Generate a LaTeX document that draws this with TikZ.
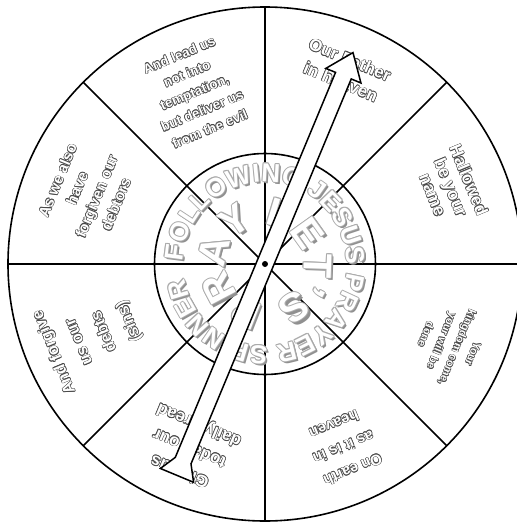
\documentclass[tikz,border=0pt]{standalone}
\usepackage{fontspec}
\setmainfont{Liberation Sans}
\usetikzlibrary{decorations.text}
\definecolor{olgray}{HTML}{4A4A4A}
\definecolor{ringshadow}{HTML}{909090}
\definecolor{ringline}{HTML}{ABABAB}
\newsavebox\olbox
\newcommand\olt[3]{%
  \sbox\olbox{\fontsize{#1}{#2}\selectfont\bfseries\color{olgray}\begin{tabular}{@{}c@{}}#3\end{tabular}}%
  \rlap{\hspace*{-.6pt}\usebox\olbox}%
  \rlap{\hspace*{.6pt}\usebox\olbox}%
  \rlap{\raisebox{.6pt}{\usebox\olbox}}%
  \rlap{\raisebox{-.6pt}{\usebox\olbox}}%
  \rlap{\hspace*{-.45pt}\raisebox{.45pt}{\usebox\olbox}}%
  \rlap{\hspace*{.45pt}\raisebox{.45pt}{\usebox\olbox}}%
  \rlap{\hspace*{-.45pt}\raisebox{-.45pt}{\usebox\olbox}}%
  \rlap{\hspace*{.45pt}\raisebox{-.45pt}{\usebox\olbox}}%
  {\fontsize{#1}{#2}\selectfont\bfseries\color{white}\begin{tabular}{@{}c@{}}#3\end{tabular}}}
\tikzset{
  wheelline/.style={line width=1.6pt, black},
  sectortext/.style={inner sep=0pt},
  pointer/.style={fill=white, draw=black, line width=1.5pt, line join=miter},
}
\begin{document}
\begin{tikzpicture}[x=1pt, y=1pt]
\useasboundingbox (-265,-259) rectangle (252,264);
\clip (-265,-259) rectangle (252,264);
\fill[white] (-265,-259) rectangle (252,264);
\coordinate (c) at (0,0);
% wheel
\draw[wheelline] (c) circle (257);
\foreach \a in {0,45,...,315} {
  \coordinate (o\a) at (\a:257);
  \draw[wheelline] (c) -- (o\a);
}
\draw[wheelline] (c) circle (110.5);
% sector texts
\node[sectortext, rotate=-22.5]  (s1) at (67.4:208)  {\olt{17}{24}{Our Father\\in heaven}};
\node[sectortext, rotate=-67.5]  (s2) at (22.4:199)  {\olt{17}{19.5}{Hallowed\\be your\\name}};
\node[sectortext, rotate=-112.5] (s3) at (-23.5:201) {\olt{11}{17}{Your\\kingdom come,\\your will be\\done}};
\node[sectortext, rotate=-157.5] (s4) at (-66.8:199) {\olt{15}{24.5}{On earth\\as it is in\\heaven}};
\node[sectortext, rotate=157.5]  (s5) at (-112.3:199) {\olt{17}{25}{Give us\\today our\\daily bread}};
\node[sectortext, rotate=112.5]  (s6) at (-157.2:189) {\olt{16}{27}{And forgive\\us our\\debts\\(sins)}};
\node[sectortext, rotate=67.5]   (s7) at (158.1:191) {\olt{15}{21}{As we also\\have\\forgiven our\\debtors}};
\node[sectortext, rotate=22.5]   (s8) at (112.3:185) {\olt{13.5}{20}{And lead us\\not into\\temptation,\\but deliver us\\from the evil}};
% ring text
\foreach \dx/\dy/\col in {2/-2/ringshadow, 1.4/-1/ringshadow, 1/0/ringline, -1/0/ringline, 0/1/ringline, 0/-1/ringline, -0.7/0.7/ringline, 0.7/0.7/ringline, 0/0/white} {
  \path[shift={(\dx,\dy)}, decorate, decoration={text along path, text color=\col, text align={fit to path},
    text={|\fontsize{26}{26}\selectfont\bfseries|FOLLOWING JESUS PRAYER SPINNER}}]
    (178:82) arc[start angle=178, end angle=-170, radius=82];
}
% centre text
\foreach \dx/\dy/\col in {2.2/-2.2/ringshadow, 1.5/-1/ringshadow, 1/0/ringline, -1/0/ringline, 0/1/ringline, 0/-1/ringline, -0.7/0.7/ringline, 0.7/0.7/ringline, 0/0/white} {
  \path[shift={(\dx,\dy)}, decorate, decoration={text along path, text color=\col,
    text={|\fontsize{40}{40}\selectfont\bfseries|LET'S PRAY}}]
    (91:39) arc[start angle=91, end angle=-265, radius=39];
}
% pointer
\begin{scope}[rotate=67.4]
\draw[pointer] (229,0) -- (204,19) -- (204,8.5) -- (-213,8.5) -- (-229,18) -- (-229,-18) -- (-213,-8.5) -- (204,-8.5) -- (204,-19) -- cycle;
\end{scope}
\fill (c) circle (3);
\end{tikzpicture}
\end{document}
